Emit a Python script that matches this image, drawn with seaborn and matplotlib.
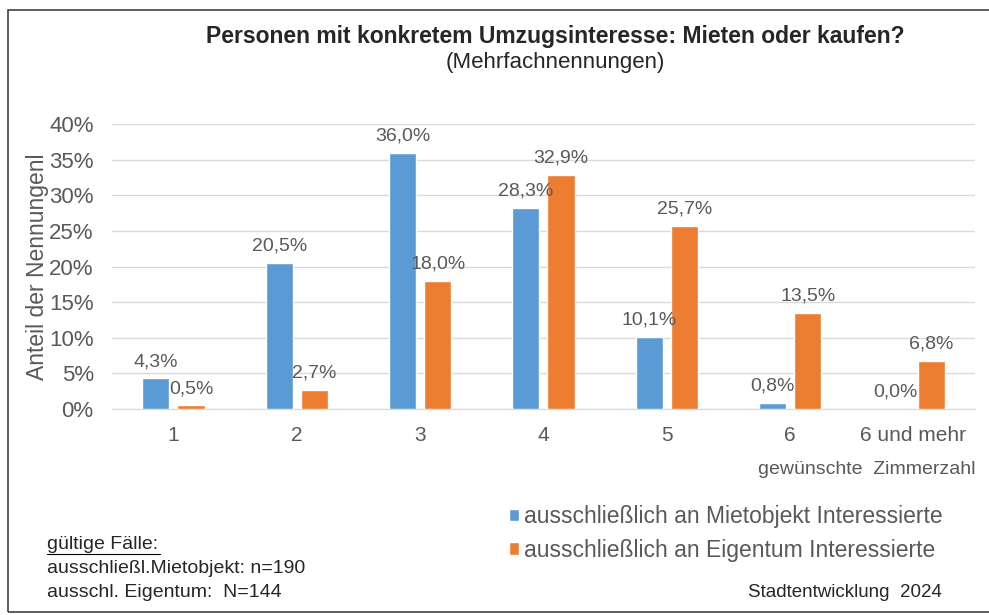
import pandas as pd
import seaborn as sns
import matplotlib.pyplot as plt
from matplotlib.patches import Rectangle

## Werte aus dem Diagramm (Anteil der Nennungen in %)
zimmer = ['1', '2', '3', '4', '5', '6', '6 und mehr']
miete = [4.3, 20.5, 36.0, 28.3, 10.1, 0.8, 0.0]
eigentum = [0.5, 2.7, 18.0, 32.9, 25.7, 13.5, 6.8]
serien = ['ausschließlich an Mietobjekt Interessierte',
          'ausschließlich an Eigentum Interessierte']
farben = ['#5B9BD5', '#ED7D31']

df = pd.DataFrame({
    'zimmer': zimmer * 2,
    'anteil': miete + eigentum,
    'gruppe': [serien[0]] * len(zimmer) + [serien[1]] * len(zimmer),
})

sns.set_style('white')
plt.rcParams['font.family'] = ['Liberation Sans', 'DejaVu Sans']
grau = '#595959'

fig = plt.figure(figsize=(9.89, 6.15), dpi=100)
ax = fig.add_axes([0.113, 0.335, 0.873, 0.463])

sns.barplot(data=df, x='zimmer', y='anteil', hue='gruppe', palette=farben,
            saturation=1, width=0.57, gap=0.23, ax=ax, legend=True, zorder=3)

ax.set_ylim(0, 40)
ax.set_yticks(range(0, 41, 5))
ax.set_yticklabels([f'{v}%' for v in range(0, 41, 5)], fontsize=16, color=grau)
ax.tick_params(axis='x', labelsize=15, colors=grau, length=0, pad=12)
ax.tick_params(axis='y', length=0, pad=13)
ax.yaxis.grid(True, color='#D9D9D9', linewidth=1, zorder=0)
ax.set_axisbelow(True)
for s in ['top', 'right', 'left']:
    ax.spines[s].set_visible(False)
ax.spines['bottom'].set_color('#D9D9D9')
ax.set_xlabel('')
ax.set_ylabel('Anteil der Nennungenl', fontsize=16.5, color=grau, labelpad=0)

## Datenbeschriftung mit Komma
for cont in ax.containers:
    labels = [f'{b.get_height():.1f}%'.replace('.', ',') for b in cont]
    ax.bar_label(cont, labels=labels, padding=6, fontsize=14, color=grau)

## Legende
handles, labels = ax.get_legend_handles_labels()
ax.legend(handles, labels, loc='upper left', bbox_to_anchor=(0.505, 0.193),
          bbox_transform=fig.transFigure, frameon=False, fontsize=16.5,
          labelcolor=grau, handlelength=0.45, handleheight=0.45,
          handletextpad=0.2, labelspacing=0.45, borderaxespad=0)

fig.text(0.561, 0.940, 'Personen mit konkretem Umzugsinteresse: Mieten oder kaufen?',
         ha='center', va='center', fontsize=16.5, fontweight='bold')
fig.text(0.561, 0.899, '(Mehrfachnennungen)', ha='center', va='center', fontsize=16)
fig.text(0.986, 0.237, 'gewünschte  Zimmerzahl', ha='right', va='center',
         fontsize=14, color=grau)

fig.text(0.048, 0.114, 'gültige Fälle:', ha='left', va='center', fontsize=14)
fig.add_artist(plt.Line2D([0.048, 0.162], [0.099, 0.099], color='black', lw=0.8,
                          transform=fig.transFigure))
fig.text(0.048, 0.076, 'ausschließl.Mietobjekt: n=190', ha='left', va='center',
         fontsize=14)
fig.text(0.048, 0.037, 'ausschl. Eigentum:  N=144', ha='left', va='center',
         fontsize=14)
fig.text(0.952, 0.037, 'Stadtentwicklung  2024', ha='right', va='center',
         fontsize=13.5)

## Rahmen um die Grafik
fig.add_artist(Rectangle((0.008, 0.005), 1.2, 0.979, transform=fig.transFigure,
                         fill=False, edgecolor='#404040', lw=1.2))

fig.savefig('out.png', dpi=100)
